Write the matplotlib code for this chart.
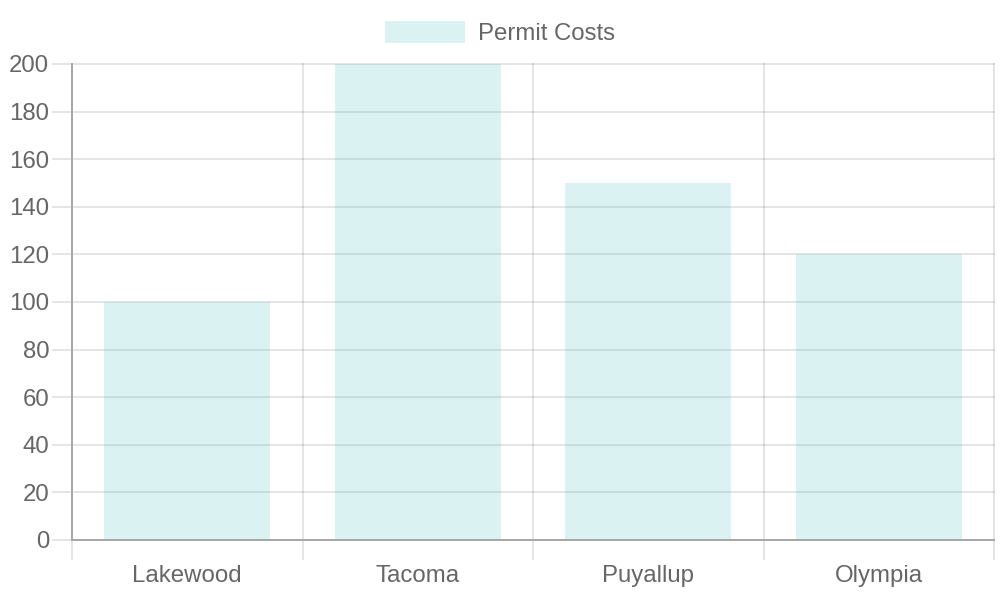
import matplotlib.pyplot as plt
from matplotlib.ticker import MultipleLocator, FixedLocator

# dados
cidades = ['Lakewood', 'Tacoma', 'Puyallup', 'Olympia']
custos = [100, 200, 150, 120]
serie = 'Permit Costs'

plt.rcParams['font.family'] = ['Liberation Sans', 'DejaVu Sans']

COR_TEXTO = '#666666'
COR_GRADE = (0, 0, 0, 0.1)
COR_EIXO = '#a8a8a8'
COR_BARRA = (75 / 255, 192 / 255, 192 / 255, 0.2)
FONTE = 17.3  # ~24 px


def criar_grafico(cidades, custos):
    fig = plt.figure(figsize=(10, 6), dpi=100)
    ax = fig.add_axes([72 / 1000, 60 / 600, 922 / 1000, 476 / 600])

    posicoes = [i + 0.5 for i in range(len(cidades))]
    ax.bar(posicoes, custos, width=0.72, color=COR_BARRA, linewidth=0,
           label=serie, zorder=1)

    ax.set_xlim(0, len(cidades))
    ax.set_ylim(0, 200)
    ax.yaxis.set_major_locator(MultipleLocator(20))
    ax.set_xticks(posicoes)
    ax.set_xticklabels(cidades)
    ax.xaxis.set_minor_locator(FixedLocator(range(len(cidades) + 1)))

    for lado in ax.spines.values():
        lado.set_visible(False)

    ax.set_axisbelow(True)
    ax.grid(True, axis='y', which='major', color='black', alpha=0.1,
            linewidth=1.44)
    ax.grid(True, axis='x', which='minor', color='black', alpha=0.1,
            linewidth=1.44)
    # nao cortar as linhas da borda
    for tick in ax.yaxis.get_major_ticks() + ax.xaxis.get_minor_ticks():
        tick.gridline.set_clip_on(False)

    ax.tick_params(axis='y', length=14.4, width=1.44, color=COR_GRADE,
                   labelsize=FONTE, labelcolor=COR_TEXTO, pad=2)
    ax.tick_params(axis='x', which='major', length=0, labelsize=FONTE,
                   labelcolor=COR_TEXTO, pad=18)
    ax.tick_params(axis='x', which='minor', length=14.4, width=1.44,
                   color=COR_GRADE)

    # linhas dos eixos
    ax.axvline(0, color=COR_EIXO, linewidth=1.44, clip_on=False, zorder=3)
    ax.axhline(0, color=COR_EIXO, linewidth=1.44, clip_on=False, zorder=3)

    fig.legend(loc='center', bbox_to_anchor=(0.5, 1 - 33 / 600),
               frameon=False, fontsize=FONTE, labelcolor=COR_TEXTO,
               handlelength=80 / 24, handleheight=1.0, handletextpad=0.54,
               borderpad=0)

    fig.savefig('out.png', dpi=100)


if __name__ == '__main__':
    criar_grafico(cidades, custos)
